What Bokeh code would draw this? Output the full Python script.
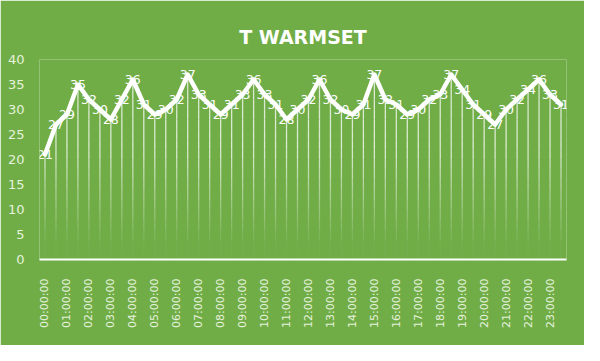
import math
from bokeh.plotting import figure
from bokeh.models import Range1d, FixedTicker, ColumnDataSource
from bokeh.core.properties import value
from bokeh.embed import file_html
from bokeh.resources import INLINE

# ---- data ----
times = [f"{h:02d}:{m:02d}:00" for h in range(24) for m in (0, 30)]
temps = [21, 27, 29, 35, 32, 30, 28, 32, 36, 31, 29, 30, 32, 37, 33, 31,
         29, 31, 33, 36, 33, 31, 28, 30, 32, 36, 32, 30, 29, 31, 37, 32,
         31, 29, 30, 32, 33, 37, 34, 31, 29, 27, 30, 32, 34, 36, 33, 31]
y_ticks = [0, 5, 10, 15, 20, 25, 30, 35, 40]
title_text = "T WARMSET"

BG = "#70AD47"
xs = [i + 0.5 for i in range(len(temps))]

p = figure(width=584, height=345, output_backend="svg", toolbar_location=None,
           x_range=Range1d(0, len(temps)), y_range=Range1d(0, 40),
           min_border_left=39, min_border_right=18,
           min_border_top=59, min_border_bottom=86)
p.background_fill_color = BG
p.border_fill_color = BG
p.outline_line_color = None
p.xgrid.visible = False
p.ygrid.visible = False

p.title.text = title_text
p.title.align = "center"
p.title.vertical_align = "middle"
p.title.text_color = "white"
p.title.text_font = "DejaVu Sans"
p.title.text_font_style = "bold"
p.title.text_font_size = "19px"
p.title.standoff = 22

# drop lines with fade toward the axis
x0s, y0s, x1s, y1s, alphas = [], [], [], [], []
band = 2.0
for x, t in zip(xs, temps):
    lo = 0.0
    while lo < t:
        hi = min(lo + band, t)
        mid = (lo + hi) / 2
        a = max(0.03, min(0.75, 0.75 * (mid - 2) / 20))
        x0s.append(x); y0s.append(lo); x1s.append(x); y1s.append(hi); alphas.append(a)
        lo = hi
seg = ColumnDataSource(dict(x0=x0s, y0=y0s, x1=x1s, y1=y1s, a=alphas))
p.segment("x0", "y0", "x1", "y1", source=seg, line_color="white",
          line_alpha="a", line_width=1.3)

src = ColumnDataSource(dict(x=xs, y=temps, lbl=[str(t) for t in temps]))
p.line("x", "y", source=src, line_color="white", line_width=4.5,
       line_join="round", line_cap="round")
p.text("x", "y", text="lbl", source=src, text_color="white",
       text_font=value("DejaVu Sans"), text_font_size="12.5px",
       text_align="center", text_baseline="middle")

# axes
xa = p.xaxis[0]
xa.ticker = FixedTicker(ticks=[xs[i] for i in range(0, len(xs), 2)])
xa.major_label_overrides = {xs[i]: times[i] for i in range(0, len(xs), 2)}
xa.major_label_orientation = math.pi / 2
xa.major_label_text_color = "#e6f2dc"
xa.major_label_text_font = "DejaVu Sans"
xa.major_label_text_font_size = "11px"
xa.major_label_standoff = 13
xa.major_tick_line_color = None
xa.minor_tick_line_color = None
xa.axis_line_color = "white"
xa.axis_line_width = 2

ya = p.yaxis[0]
ya.ticker = FixedTicker(ticks=y_ticks)
ya.major_label_text_color = "#e6f2dc"
ya.major_label_text_font = "DejaVu Sans"
ya.major_label_text_font_size = "13px"
ya.major_label_standoff = 9
ya.major_tick_line_color = None
ya.minor_tick_line_color = None
ya.axis_line_color = None

open("out.html", "w").write(file_html(p, INLINE))
